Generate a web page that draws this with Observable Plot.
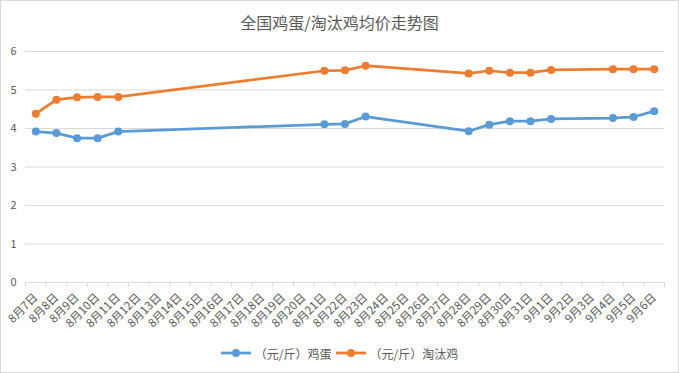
<!DOCTYPE html>
<html><head><meta charset="utf-8">
<script src="https://cdn.jsdelivr.net/npm/d3@7"></script>
<script src="https://cdn.jsdelivr.net/npm/@observablehq/plot@0.6"></script>
<style>
html,body{margin:0;padding:0;background:#fff;}
#wrap{width:679px;height:373px;box-sizing:border-box;border:1px solid #d9d9d9;font-family:"Noto Sans CJK SC","Noto Sans",sans-serif;color:#595959;position:relative;overflow:hidden;}
#title{height:39px;line-height:42px;text-align:center;font-size:16px;}
#legend{position:absolute;left:0;right:0;top:343px;text-align:center;font-size:12px;}
.item{display:inline-flex;align-items:center;margin:0 2px;}
.item svg{margin-right:4px;}
</style></head>
<body><div id="wrap"><div id="title">全国鸡蛋/淘汰鸡均价走势图</div><div id="chart"></div><div id="legend"></div></div>
<script>
const dates = ["8月7日","8月8日","8月9日","8月10日","8月11日","8月12日","8月13日","8月14日","8月15日","8月16日","8月17日","8月18日","8月19日","8月20日","8月21日","8月22日","8月23日","8月24日","8月25日","8月26日","8月27日","8月28日","8月29日","8月30日","8月31日","9月1日","9月2日","9月3日","9月4日","9月5日","9月6日"];
const dataDates = ["8月7日","8月8日","8月9日","8月10日","8月11日","8月21日","8月22日","8月23日","8月28日","8月29日","8月30日","8月31日","9月1日","9月4日","9月5日","9月6日"];
const egg = [3.92,3.88,3.75,3.75,3.92,4.11,4.12,4.31,3.93,4.10,4.19,4.19,4.25,4.27,4.30,4.45];
const hen = [4.38,4.75,4.81,4.82,4.82,5.50,5.51,5.63,5.43,5.50,5.45,5.45,5.52,5.54,5.54,5.54];
const seriesNames = ["（元/斤）鸡蛋","（元/斤）淘汰鸡"];
const colors = ["#5B9BD5","#ED7D31"];
const yTicks = [0,1,2,3,4,5,6];

const rows = [];
dataDates.forEach((d,i)=>{
  rows.push({x: dates.indexOf(d), y: egg[i], s: seriesNames[0]});
  rows.push({x: dates.indexOf(d), y: hen[i], s: seriesNames[1]});
});
const bounds = d3.range(dates.length + 1).map(i => i - 0.5);

const chart = Plot.plot({
  width: 677, height: 300,
  marginTop: 11, marginBottom: 58, marginLeft: 24, marginRight: 14,
  style: {fontFamily: '"Noto Sans CJK SC","Noto Sans",sans-serif', fontSize: "11px", color: "#595959", background: "transparent"},
  x: {type: "linear", domain: [-0.5, dates.length - 0.5]},
  y: {domain: [0, 6]},
  color: {domain: seriesNames, range: colors},
  marks: [
    Plot.gridY(yTicks.slice(1), {stroke: "#d9d9d9", strokeOpacity: 1}),
    Plot.ruleY([0], {stroke: "#d9d9d9"}),
    Plot.ruleX(bounds, {x: d => d, y1: 0, y2: -0.13, stroke: "#d9d9d9"}),
    Plot.axisY({ticks: yTicks, tickFormat: d => String(d), tickSize: 0, tickPadding: 9, label: null}),
    Plot.axisX({ticks: d3.range(dates.length), tickFormat: i => dates[i], tickSize: 0, tickPadding: 13, tickRotate: -45, label: null, fontSize: 11.5}),
    Plot.line(rows, {x: "x", y: "y", z: "s", stroke: "s", strokeWidth: 2.75}),
    Plot.dot(rows, {x: "x", y: "y", fill: "s", r: 4})
  ]
});
document.getElementById("chart").appendChild(chart);

const lg = document.getElementById("legend");
seriesNames.forEach((n,i)=>{
  const it = document.createElement("span");
  it.className = "item";
  it.innerHTML = `<svg width="30" height="10"><line x1="0" x2="30" y1="5" y2="5" stroke="${colors[i]}" stroke-width="2.75"/><circle cx="15" cy="5" r="4" fill="${colors[i]}"/></svg>${n}`;
  lg.appendChild(it);
});
</script></body></html>
